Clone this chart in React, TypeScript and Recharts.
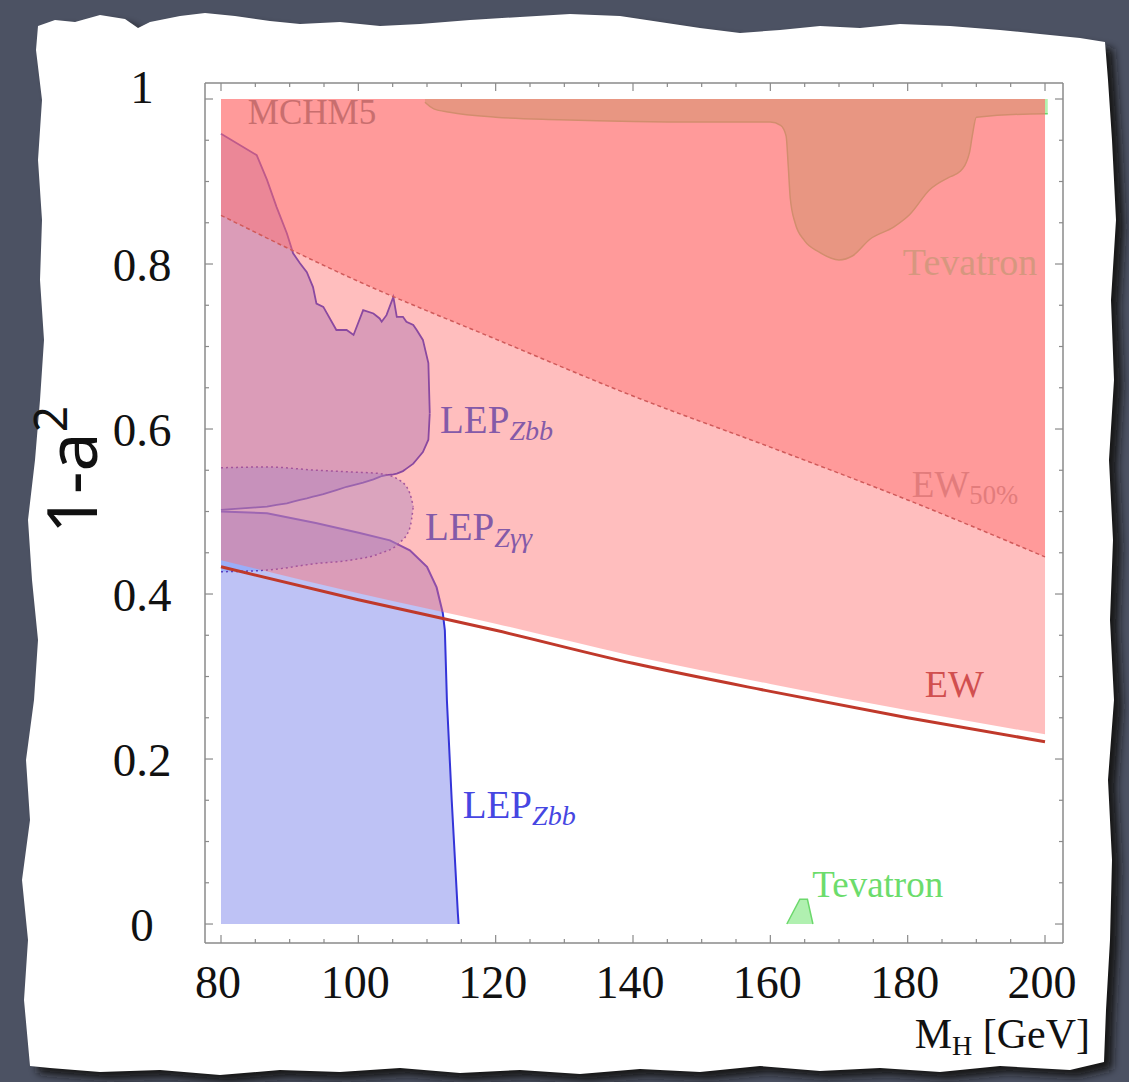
import React from 'react'
import { ComposedChart, Area, Line, XAxis, YAxis, ReferenceDot } from 'recharts'

const W = 1129
const H = 1082
const PLOT = { left: 205, top: 83, right: 1063, bottom: 943 }

const SERIF = "'Liberation Serif', 'DejaVu Serif', serif"
const FRAME = '#8a8a8a'

// axis ticks
const X_LABELS = [80, 100, 120, 140, 160, 180, 200]
const X_TICKS = [80, 85, 90, 95, 100, 105, 110, 115, 120, 125, 130, 135, 140, 145, 150, 155, 160, 165, 170, 175, 180, 185, 190, 195, 200]
const Y_LABELS = [0, 0.2, 0.4, 0.6, 0.8, 1]
const Y_TICKS = [0, 0.05, 0.1, 0.15, 0.2, 0.25, 0.3, 0.35, 0.4, 0.45, 0.5, 0.55, 0.6, 0.65, 0.7, 0.75, 0.8, 0.85, 0.9, 0.95, 1]

// electroweak bounds
const MH = [80, 100, 120, 140, 160, 180, 200]
const EW = [0.433, 0.393, 0.356, 0.316, 0.282, 0.25, 0.221]
const EW_EDGE = [0.441, 0.401, 0.364, 0.325, 0.291, 0.259, 0.23]
const EW50 = [0.859, 0.779, 0.709, 0.64, 0.578, 0.514, 0.445]

// LEP Zbb, upper lobe (low / high edge)
const ZBB_UP_X = [80, 85.2, 86.7, 88.1, 89.6, 90.5, 91.5, 92.5, 93.4, 93.9, 94.9, 96.8, 98.3, 99.3, 100.7, 102.2, 103.1, 103.4, 104.1, 105.1, 105.6, 106.5, 107, 108, 108.5, 109.4, 110.2, 110.4]
const ZBB_UP_LO = [0.502, 0.505, 0.506, 0.508, 0.51, 0.512, 0.514, 0.516, 0.518, 0.519, 0.521, 0.526, 0.53, 0.532, 0.535, 0.539, 0.542, 0.543, 0.544, 0.545, 0.546, 0.549, 0.552, 0.558, 0.563, 0.572, 0.587, 0.619]
const ZBB_UP_HI = [0.958, 0.932, 0.902, 0.869, 0.837, 0.813, 0.801, 0.79, 0.772, 0.752, 0.748, 0.72, 0.72, 0.714, 0.744, 0.74, 0.734, 0.73, 0.738, 0.76, 0.736, 0.736, 0.73, 0.726, 0.72, 0.708, 0.68, 0.619]

// LEP Zbb, lower lobe
const ZBB_LO_X = [80, 86.7, 93.8, 100.2, 104.6, 107.5, 110, 111.4, 112.3, 112.6, 112.9, 113.6, 114.5, 114.6]
const ZBB_LO_Y = [0.5, 0.498, 0.486, 0.474, 0.465, 0.453, 0.433, 0.408, 0.377, 0.356, 0.271, 0.15, 0.012, 0]

// LEP Z gamma gamma
const ZGG_X = [80, 86.7, 93.9, 98.8, 103.1, 106, 107.5, 108]
const ZGG_LO = [0.427, 0.429, 0.437, 0.441, 0.449, 0.462, 0.48, 0.506]
const ZGG_HI = [0.553, 0.554, 0.55, 0.548, 0.546, 0.538, 0.522, 0.506]

// Tevatron, top band and bump
const TEV_X = [109.7, 111, 113.3, 120, 129.3, 150, 160, 161.5, 162.3, 162.6, 162.9, 163.6, 165, 167, 170, 172, 174.5, 178, 180.3, 183.2, 186, 187.6, 189, 189.4, 190, 200, 200.4]
const TEV_Y = [0.996, 0.988, 0.984, 0.978, 0.975, 0.972, 0.972, 0.968, 0.955, 0.92, 0.88, 0.85, 0.828, 0.815, 0.805, 0.81, 0.83, 0.845, 0.86, 0.89, 0.905, 0.912, 0.935, 0.955, 0.978, 0.982, 0.982]

// Tevatron, low corner
const TEV_LOW_X = [162.4, 164.3, 165.4, 166.2]
const TEV_LOW_Y = [0, 0.03, 0.03, 0]

const ewRows = MH.map((x, i) => ({ x, ew: EW[i], edge: EW_EDGE[i], ew50: EW50[i] }))
const zbbUpper = ZBB_UP_X.map((x, i) => ({ x, r: [ZBB_UP_LO[i], ZBB_UP_HI[i]] }))
const zbbLower = ZBB_LO_X.map((x, i) => ({ x, y: ZBB_LO_Y[i] }))
const zgg = ZGG_X.map((x, i) => ({ x, r: [ZGG_LO[i], ZGG_HI[i]] }))
const tevTop = TEV_X.map((x, i) => ({ x, y: TEV_Y[i] }))
const tevLow = TEV_LOW_X.map((x, i) => ({ x, y: TEV_LOW_Y[i] }))

// in-plot labels, anchored in data units
const LABELS = [
  { x: 83.9, y: 0.97, main: 'MCHM5', color: '#c96e6e', size: 35 },
  { x: 179.3, y: 0.787, main: 'Tevatron', color: '#d6977f', size: 38 },
  { x: 111.9, y: 0.595, main: 'LEP', sub: 'Zbb', italic: true, color: '#845aa8', size: 39 },
  { x: 109.7, y: 0.465, main: 'LEP', sub: 'Zγγ', italic: true, color: '#845aa8', size: 39 },
  { x: 180.6, y: 0.517, main: 'EW', sub: '50%', color: '#e27c7c', size: 37 },
  { x: 182.5, y: 0.275, main: 'EW', color: '#d14f4f', size: 38 },
  { x: 115.2, y: 0.128, main: 'LEP', sub: 'Zbb', italic: true, color: '#4646e2', size: 39 },
  { x: 166.1, y: 0.033, main: 'Tevatron', color: '#6cdc6c', size: 37 },
]

const PAPER = [
  [38, 26], [55, 20], [75, 22], [100, 15], [125, 19], [138, 28], [150, 22], [180, 16], [205, 13], [235, 16],
  [270, 21], [300, 24], [340, 22], [380, 26], [420, 24], [470, 20], [520, 17], [570, 14], [620, 16], [660, 22],
  [700, 28], [740, 33], [780, 30], [820, 26], [860, 28], [900, 24], [950, 26], [1000, 30], [1040, 34], [1080, 38],
  [1105, 42], [1108, 80], [1112, 140], [1116, 220], [1111, 300], [1114, 380], [1109, 460], [1113, 540], [1110, 620],
  [1114, 700], [1108, 780], [1112, 860], [1110, 940], [1106, 1010], [1104, 1062], [1070, 1070], [1000, 1066],
  [940, 1072], [880, 1068], [820, 1071], [760, 1066], [700, 1072], [640, 1069], [580, 1074], [520, 1070],
  [460, 1073], [400, 1068], [340, 1072], [280, 1070], [220, 1075], [160, 1070], [100, 1072], [50, 1068], [30, 1066],
  [24, 1000], [28, 940], [22, 880], [30, 820], [26, 760], [34, 700], [38, 640], [32, 580], [28, 520], [35, 460],
  [40, 400], [44, 340], [40, 280], [42, 220], [38, 160], [42, 100], [36, 50],
]

function BottomTick(props: any) {
  const { x, y, payload } = props
  const major = X_LABELS.includes(payload.value)
  return (
    <g>
      <line x1={x} x2={x} y1={y} y2={y - (major ? 8 : 4)} stroke={FRAME} strokeWidth={1.2} />
      {major && (
        <text x={x - 3} y={y + 55} textAnchor="middle" fontFamily={SERIF} fontSize={46} fill="#111">
          {payload.value}
        </text>
      )}
    </g>
  )
}

function TopTick(props: any) {
  const { x, y, payload } = props
  const major = X_LABELS.includes(payload.value)
  return <line x1={x} x2={x} y1={y} y2={y + (major ? 8 : 4)} stroke={FRAME} strokeWidth={1.2} />
}

function LeftTick(props: any) {
  const { x, y, payload } = props
  const major = Y_LABELS.includes(payload.value)
  const dy = payload.value === 1 ? 4 : 17
  return (
    <g>
      <line x1={x} x2={x + (major ? 8 : 4)} y1={y} y2={y} stroke={FRAME} strokeWidth={1.2} />
      {major && (
        <text x={x - 63} y={y + dy} textAnchor="middle" fontFamily={SERIF} fontSize={47} fill="#111">
          {String(payload.value)}
        </text>
      )}
    </g>
  )
}

function RightTick(props: any) {
  const { x, y, payload } = props
  const major = Y_LABELS.includes(payload.value)
  return <line x1={x} x2={x - (major ? 8 : 4)} y1={y} y2={y} stroke={FRAME} strokeWidth={1.2} />
}

function XTitle() {
  return (
    <text x={1090} y={1048} textAnchor="end" fontFamily={SERIF} fontSize={42} fill="#111">
      M<tspan fontSize={28} dy={7}>H</tspan>
      <tspan dy={-7}> [GeV]</tspan>
    </text>
  )
}

function YTitle() {
  return (
    <text
      transform="rotate(-90 97 470)"
      x={97}
      y={470}
      textAnchor="middle"
      fontFamily="'Noto Sans', sans-serif"
      fontSize={70}
      fill="#111"
    >
      1-a<tspan fontSize={46} dy={-30}>2</tspan>
    </text>
  )
}

function tagShape(l: any) {
  return (p: any) => (
    <text x={p.cx} y={p.cy} fontFamily={SERIF} fontSize={l.size} fill={l.color}>
      {l.main}
      {l.sub && (
        <tspan fontSize={l.size * 0.72} dy={7} fontStyle={l.italic ? 'italic' : 'normal'}>
          {l.sub}
        </tspan>
      )}
    </text>
  )
}

export default function App() {
  const paperPts = PAPER.map(p => p.join(',')).join(' ')
  return (
    <div style={{ position: 'absolute', left: 0, top: 0, width: W, height: H, background: '#4c5263' }}>
      <svg width={W} height={H} style={{ position: 'absolute', left: 0, top: 0 }}>
        <defs>
          <filter id="shadow" x="-5%" y="-5%" width="110%" height="110%">
            <feGaussianBlur stdDeviation="4" />
          </filter>
        </defs>
        <polygon points={paperPts} fill="#151515" transform="translate(8 7)" filter="url(#shadow)" />
        <polygon points={paperPts} fill="#ffffff" />
      </svg>
      <div style={{ position: 'absolute', left: 0, top: 0 }}>
        <ComposedChart
          width={W}
          height={H}
          margin={{ top: PLOT.top - 1, right: W - PLOT.right - 1, bottom: H - PLOT.bottom - 60, left: PLOT.left - 60 }}
        >
          <XAxis
            xAxisId="b"
            dataKey="x"
            type="number"
            domain={[77.67, 202.62]}
            allowDataOverflow
            ticks={X_TICKS}
            interval={0}
            tick={<BottomTick />}
            tickSize={0}
            tickMargin={0}
            tickLine={false}
            axisLine={{ stroke: FRAME, strokeWidth: 1.5 }}
            height={60}
            label={{ content: () => <XTitle /> }}
          />
          <XAxis
            xAxisId="t"
            orientation="top"
            dataKey="x"
            type="number"
            domain={[77.67, 202.62]}
            allowDataOverflow
            ticks={X_TICKS}
            interval={0}
            tick={<TopTick />}
            tickSize={0}
            tickMargin={0}
            tickLine={false}
            axisLine={{ stroke: FRAME, strokeWidth: 1.5 }}
            height={1}
          />
          <YAxis
            yAxisId="l"
            type="number"
            domain={[-0.023, 1.0194]}
            allowDataOverflow
            ticks={Y_TICKS}
            interval={0}
            tick={<LeftTick />}
            tickSize={0}
            tickMargin={0}
            tickLine={false}
            axisLine={{ stroke: FRAME, strokeWidth: 1.5 }}
            width={60}
            label={{ content: () => <YTitle /> }}
          />
          <YAxis
            yAxisId="r"
            orientation="right"
            type="number"
            domain={[-0.023, 1.0194]}
            allowDataOverflow
            ticks={Y_TICKS}
            interval={0}
            tick={<RightTick />}
            tickSize={0}
            tickMargin={0}
            tickLine={false}
            axisLine={{ stroke: FRAME, strokeWidth: 1.5 }}
            width={1}
          />

          <Area
            xAxisId="b"
            yAxisId="l"
            data={zbbLower}
            dataKey="y"
            baseValue={0}
            type="linear"
            fill="#bec2f5"
            fillOpacity={1}
            stroke="#3434d8"
            strokeWidth={2}
            isAnimationActive={false}
          />
          <Area
            xAxisId="b"
            yAxisId="l"
            data={zbbUpper}
            dataKey="r"
            type="linear"
            fill="#bec2f5"
            fillOpacity={1}
            stroke="#2a2ac8"
            strokeWidth={1.8}
            isAnimationActive={false}
          />
          <Area
            xAxisId="b"
            yAxisId="l"
            data={zgg}
            dataKey="r"
            type="monotone"
            fill="rgb(110,150,255)"
            fillOpacity={0.45}
            stroke="#5a3fc0"
            strokeWidth={1.5}
            strokeDasharray="2 3"
            isAnimationActive={false}
          />
          <Area
            xAxisId="b"
            yAxisId="l"
            data={tevTop}
            dataKey="y"
            baseValue={1}
            type="monotone"
            fill="#b4f2b0"
            fillOpacity={1}
            stroke="#6cd46c"
            strokeWidth={1.5}
            isAnimationActive={false}
          />
          <Area
            xAxisId="b"
            yAxisId="l"
            data={tevLow}
            dataKey="y"
            baseValue={0}
            type="linear"
            fill="#b0f0b0"
            fillOpacity={1}
            stroke="#6cd86c"
            strokeWidth={1.5}
            isAnimationActive={false}
          />
          <Area
            xAxisId="b"
            yAxisId="l"
            data={ewRows}
            dataKey="edge"
            baseValue={1}
            type="monotone"
            fill="rgb(255,110,110)"
            fillOpacity={0.45}
            stroke="none"
            isAnimationActive={false}
          />
          <Area
            xAxisId="b"
            yAxisId="l"
            data={ewRows}
            dataKey="ew50"
            baseValue={1}
            type="monotone"
            fill="rgb(255,110,110)"
            fillOpacity={0.45}
            stroke="none"
            isAnimationActive={false}
          />
          <Line
            xAxisId="b"
            yAxisId="l"
            data={ewRows}
            dataKey="ew"
            type="monotone"
            stroke="#c0392b"
            strokeWidth={3}
            dot={false}
            isAnimationActive={false}
          />
          <Line
            xAxisId="b"
            yAxisId="l"
            data={ewRows}
            dataKey="ew50"
            type="monotone"
            stroke="#d05a5a"
            strokeWidth={1.5}
            strokeDasharray="4 3"
            dot={false}
            isAnimationActive={false}
          />

          {LABELS.map((l, i) => (
            <ReferenceDot key={i} xAxisId="b" yAxisId="l" x={l.x} y={l.y} r={0} shape={tagShape(l)} />
          ))}
        </ComposedChart>
      </div>
    </div>
  )
}
